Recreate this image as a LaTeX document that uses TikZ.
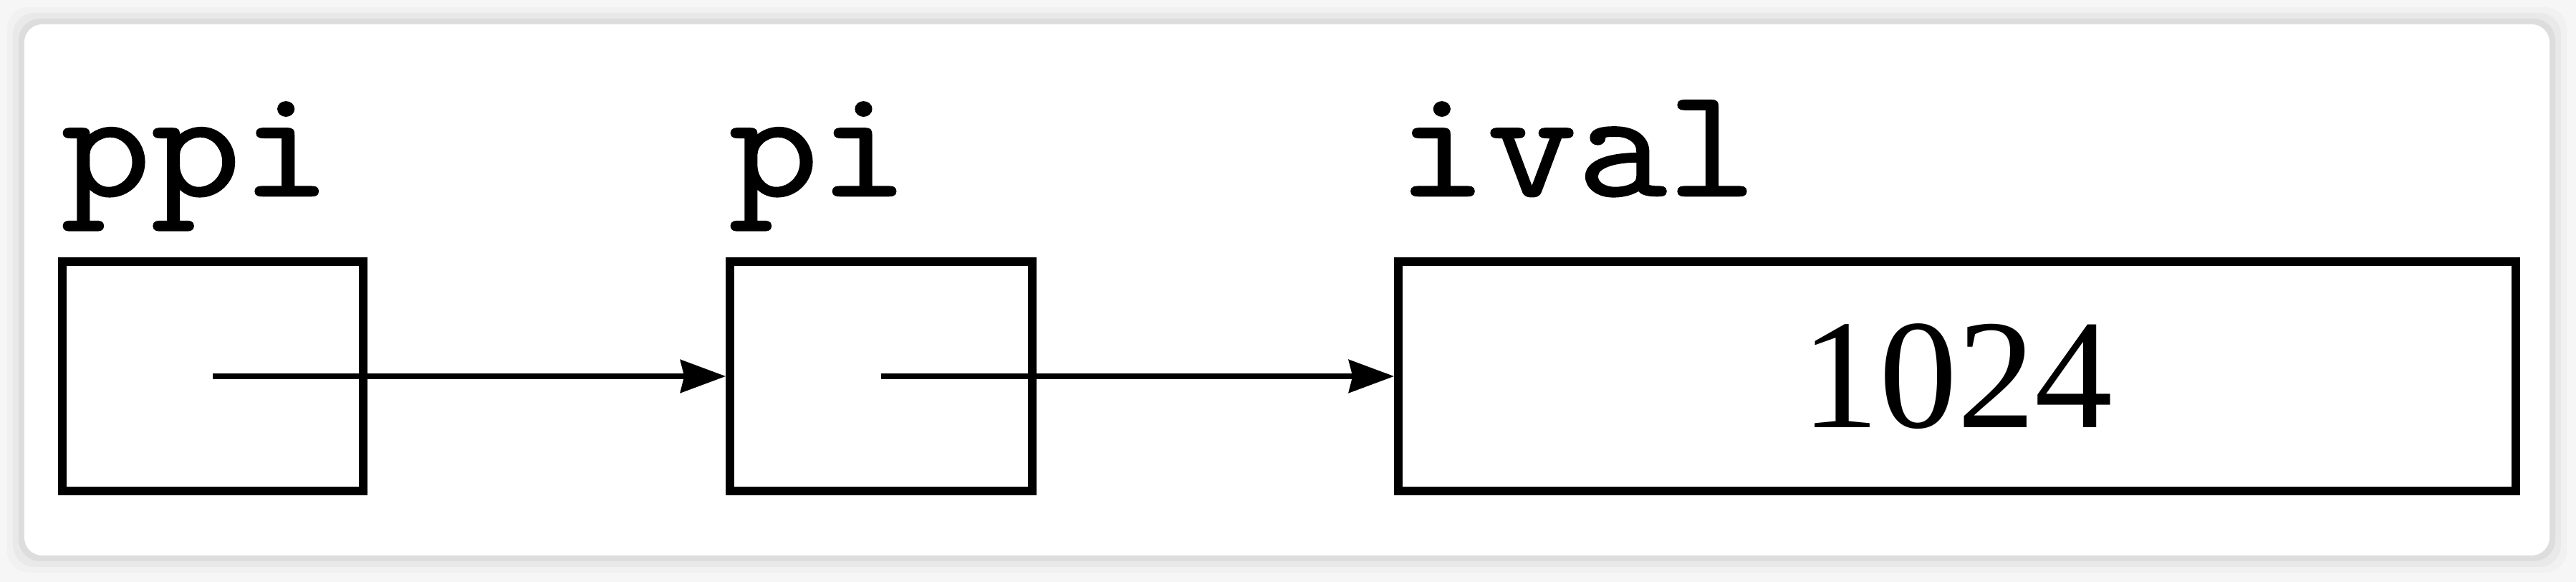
\documentclass[tikz,border=0pt]{standalone}
\usepackage{fontspec}
\setmainfont{Liberation Serif}
\setmonofont{Latin Modern Mono}[FakeBold=1, FakeStretch=1.12]
\usetikzlibrary{positioning, arrows.meta}

\begin{document}
\begin{tikzpicture}[>={Stealth[length=18pt, width=13pt, inset=1.5pt]}, line width=2.2pt, node distance=9.33cm, on grid,
    cell/.style={draw, line width=3.3pt, minimum height=3.2cm, inner sep=0pt},
    var/.style={inner sep=0pt, anchor=base west, font=\fontsize{62}{64}\selectfont\ttfamily}]
    \useasboundingbox (0,0) rectangle (35.96,8.12);
    \fill[gray!7] (0,0) rectangle (35.96,8.12);
    \foreach \s/\o in {0.24/0.02, 0.16/0.03, 0.08/0.05}
        \fill[black, opacity=\o, rounded corners=0.3cm] (0.34-\s,0.37-\s) rectangle (35.59+\s,7.78+\s);
    \fill[white, rounded corners=0.25cm] (0.34,0.37) rectangle (35.59,7.78);
    \node[cell, minimum width=4.2cm] (ppi) at (2.97,2.87) {};
    \node[cell, minimum width=4.22cm] (pi) [right=of ppi] {};
    \node[cell, minimum width=15.6cm, font=\fontsize{62}{64}\selectfont] (ival) [right=15.02cm of pi] {1024};
    \node[var] (ppiname) at ([yshift=0.86cm]ppi.north west) {ppi};
    \node[var] (piname) at ([yshift=0.86cm]pi.north west) {pi};
    \node[var] (ivalname) at ([yshift=0.86cm]ival.north west) {ival};
    \path[->]
    (ppi.center) edge (pi.west)
    (pi.center) edge (ival.west)
    ;
\end{tikzpicture}
\end{document}
